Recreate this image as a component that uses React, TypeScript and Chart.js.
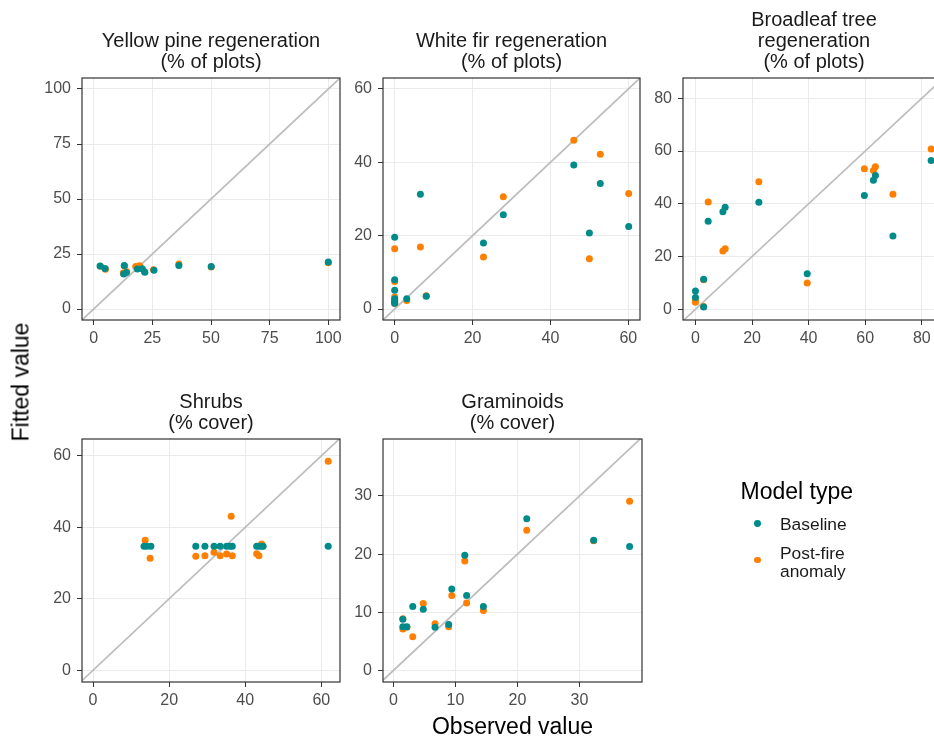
import React, { useEffect, useRef } from "react";
import { Chart, registerables } from "chart.js";

Chart.register(...registerables);

const FONT = "'Liberation Sans', Arial, Helvetica, sans-serif";
const TEAL = "#008B8B";
const ORANGE = "#FF7F00";

// ---------- Yellow pine regeneration ----------
const pineObsBase = [2.7, 4.8, 12.8, 13.0, 13.9, 18.6, 20.7, 21.8, 25.7, 36.3, 50.1, 100];
const pineFitBase = [19.6, 18.4, 15.9, 19.8, 16.6, 18.2, 18.3, 16.7, 17.6, 19.8, 19.3, 21.4];
const pineObsAnom = [2.9, 5.0, 12.6, 13.2, 14.1, 17.9, 19.6, 21.6, 25.5, 36.3, 50.1, 100];
const pineFitAnom = [19.4, 18.1, 16.4, 19.5, 16.9, 19.3, 19.7, 17.0, 17.8, 20.4, 19.1, 21.0];
const pineTicksX = [0, 25, 50, 75, 100];
const pineTicksY = [0, 25, 50, 75, 100];

// ---------- White fir regeneration ----------
const firObsBase = [0, 0, 0, 0, 0, 0, 3.1, 6.6, 8.1, 22.8, 27.9, 46.0, 50.0, 52.8, 60.1];
const firFitBase = [19.6, 8.0, 5.1, 2.8, 2.1, 1.6, 2.8, 31.3, 3.5, 18.0, 25.7, 39.3, 20.7, 34.2, 22.5];
const firObsAnom = [0, 0, 0, 0, 0, 0, 3.1, 6.6, 8.1, 22.8, 27.9, 46.0, 50.0, 52.8, 60.1];
const firFitAnom = [16.4, 7.5, 3.3, 2.4, 1.9, 1.5, 2.3, 16.9, 3.6, 14.2, 30.6, 46.0, 13.7, 42.2, 31.5];
const firTicksX = [0, 20, 40, 60];
const firTicksY = [0, 20, 40, 60];

// ---------- Broadleaf tree regeneration ----------
const broadObsBase = [0, 0, 2.9, 2.9, 4.5, 9.7, 10.5, 22.4, 39.5, 59.7, 62.9, 63.6, 69.8, 83.3];
const broadFitBase = [6.9, 4.4, 11.4, 0.8, 33.4, 37.0, 38.7, 40.6, 13.4, 43.1, 48.9, 50.7, 27.8, 56.4];
const broadObsAnom = [0, 0, 2.9, 2.9, 4.5, 9.7, 10.5, 22.4, 39.5, 59.7, 62.9, 63.6, 69.8, 83.3];
const broadFitAnom = [3.5, 2.6, 11.2, 1.0, 40.7, 22.1, 22.9, 48.3, 9.9, 53.3, 52.6, 54.0, 43.6, 60.8];
const broadTicksX = [0, 20, 40, 60, 80];
const broadTicksY = [0, 20, 40, 60, 80];

// ---------- Shrubs ----------
const shrubObsBase = [13.4, 14.1, 15.2, 27.0, 29.4, 31.8, 33.4, 35.1, 36.0, 36.6, 43.0, 43.6, 44.3, 44.7, 61.8];
const shrubFitBase = [34.7, 34.7, 34.7, 34.7, 34.7, 34.7, 34.7, 34.7, 34.7, 34.7, 34.7, 34.7, 34.7, 34.7, 34.7];
const shrubObsAnom = [13.7, 15.0, 27.0, 29.4, 31.8, 33.4, 35.1, 36.3, 36.6, 43.0, 43.6, 44.3, 61.8];
const shrubFitAnom = [36.4, 31.3, 31.9, 32.0, 33.0, 32.0, 32.5, 43.1, 32.0, 32.6, 32.0, 35.3, 58.5];
const shrubTicksX = [0, 20, 40, 60];
const shrubTicksY = [0, 20, 40, 60];

// ---------- Graminoids ----------
const gramObsBase = [1.5, 1.5, 2.15, 3.1, 4.8, 6.7, 8.9, 9.4, 11.5, 11.8, 14.5, 21.5, 32.3, 38.1];
const gramFitBase = [8.8, 7.5, 7.5, 11.0, 10.5, 7.4, 7.9, 14.0, 19.8, 12.9, 11.0, 26.1, 22.4, 21.3];
const gramObsAnom = [1.5, 1.5, 2.15, 3.1, 4.8, 6.7, 8.9, 9.4, 11.5, 11.8, 14.5, 21.5, 32.3, 38.1];
const gramFitAnom = [8.9, 7.1, 7.4, 5.8, 11.5, 8.0, 7.5, 12.9, 18.8, 11.6, 10.3, 24.1, 22.3, 29.1];
const gramTicksX = [0, 10, 20, 30];
const gramTicksY = [0, 10, 20, 30];

const seriesNames = ["Baseline", "Post-fire anomaly"];

type Area = { left: number; right: number; top: number; bottom: number };
type PanelProps = {
  title: string[];
  obsBase: number[];
  fitBase: number[];
  obsAnom: number[];
  fitAnom: number[];
  ticksX: number[];
  ticksY: number[];
  xRange: [number, number];
  yRange: [number, number];
  area: Area;
};

const CANVAS_W = 1000;
const CANVAS_H = 738;
const Y_AXIS_W = 40;
const X_AXIS_H = 30;
const TITLE_SIZE = 20;
const TITLE_LH = 1.05;
const TITLE_PAD = 5;

const panelBorder = {
  id: "panelBorder",
  afterDraw(chart: any) {
    const { ctx, chartArea } = chart;
    const { left, top, right, bottom } = chartArea;
    ctx.save();
    ctx.strokeStyle = "#333333";
    ctx.lineWidth = 1.2;
    ctx.strokeRect(left, top, right - left, bottom - top);
    ctx.restore();
  },
};

function toPoints(xs: number[], ys: number[]) {
  return xs.map((x, i) => ({ x, y: ys[i] }));
}

function Panel(p: PanelProps) {
  const ref = useRef<HTMLCanvasElement | null>(null);
  useEffect(() => {
    if (!ref.current) return;
    const titleH = p.title.length * TITLE_SIZE * TITLE_LH + TITLE_PAD;
    const lo = Math.min(p.xRange[0], p.yRange[0]);
    const hi = Math.max(p.xRange[1], p.yRange[1]);
    const tickFont = { family: FONT, size: 16 };
    const gridCommon = {
      color: "#EBEBEB",
      lineWidth: 1,
      drawTicks: true,
      tickLength: 5,
      tickColor: "#333333",
      tickWidth: 1,
    };
    const chart = new Chart(ref.current, {
      type: "scatter",
      data: {
        datasets: [
          {
            label: seriesNames[0],
            data: toPoints(p.obsBase, p.fitBase),
            backgroundColor: TEAL,
            borderColor: TEAL,
            borderWidth: 0,
            pointRadius: 3.5,
          },
          {
            label: seriesNames[1],
            data: toPoints(p.obsAnom, p.fitAnom),
            backgroundColor: ORANGE,
            borderColor: ORANGE,
            borderWidth: 0,
            pointRadius: 3.5,
          },
          {
            label: "1:1",
            data: [
              { x: lo, y: lo },
              { x: hi, y: hi },
            ],
            showLine: true,
            borderColor: "#BDBDBD",
            borderWidth: 1.7,
            pointRadius: 0,
          },
        ] as any,
      },
      options: {
        animation: false,
        responsive: false,
        devicePixelRatio: 1,
        events: [],
        layout: {
          padding: {
            left: p.area.left - Y_AXIS_W,
            right: CANVAS_W - p.area.right,
            top: p.area.top - titleH,
            bottom: CANVAS_H - p.area.bottom - X_AXIS_H,
          },
        },
        plugins: {
          legend: { display: false },
          tooltip: { enabled: false },
          title: {
            display: true,
            text: p.title,
            fullSize: false,
            color: "#1A1A1A",
            font: { family: FONT, size: TITLE_SIZE, weight: "normal", lineHeight: TITLE_LH },
            padding: { top: 0, bottom: TITLE_PAD },
          },
        },
        scales: {
          x: {
            type: "linear",
            min: p.xRange[0],
            max: p.xRange[1],
            afterBuildTicks: (s: any) => {
              s.ticks = p.ticksX.map((v) => ({ value: v }));
            },
            afterFit: (s: any) => {
              s.height = X_AXIS_H;
            },
            grid: gridCommon,
            border: { display: false },
            ticks: {
              font: tickFont,
              color: "#4D4D4D",
              padding: 4,
              maxRotation: 0,
              autoSkip: false,
              callback: (v: any) => String(v),
            },
          },
          y: {
            type: "linear",
            min: p.yRange[0],
            max: p.yRange[1],
            afterBuildTicks: (s: any) => {
              s.ticks = p.ticksY.map((v) => ({ value: v }));
            },
            afterFit: (s: any) => {
              s.width = Y_AXIS_W;
            },
            grid: gridCommon,
            border: { display: false },
            ticks: {
              font: tickFont,
              color: "#4D4D4D",
              padding: 6,
              autoSkip: false,
              callback: (v: any) => String(v),
            },
          },
        },
      } as any,
      plugins: [panelBorder],
    });
    return () => chart.destroy();
  }, []);
  return (
    <canvas
      ref={ref}
      width={CANVAS_W}
      height={CANVAS_H}
      style={{ position: "absolute", left: 0, top: 0, width: CANVAS_W, height: CANVAS_H }}
    />
  );
}

export default function App() {
  return (
    <div
      style={{
        position: "absolute",
        left: 0,
        top: 0,
        width: 934,
        height: 738,
        overflow: "hidden",
        background: "#FFFFFF",
        fontFamily: FONT,
      }}
    >
      <Panel
        title={["Yellow pine regeneration", "(% of plots)"]}
        obsBase={pineObsBase}
        fitBase={pineFitBase}
        obsAnom={pineObsAnom}
        fitAnom={pineFitAnom}
        ticksX={pineTicksX}
        ticksY={pineTicksY}
        xRange={[-5, 105]}
        yRange={[-5, 105]}
        area={{ left: 82, right: 340, top: 78, bottom: 320 }}
      />
      <Panel
        title={["White fir regeneration", "(% of plots)"]}
        obsBase={firObsBase}
        fitBase={firFitBase}
        obsAnom={firObsAnom}
        fitAnom={firFitAnom}
        ticksX={firTicksX}
        ticksY={firTicksY}
        xRange={[-3, 63]}
        yRange={[-3, 63]}
        area={{ left: 383, right: 640, top: 78, bottom: 320 }}
      />
      <Panel
        title={["Broadleaf tree", "regeneration", "(% of plots)"]}
        obsBase={broadObsBase}
        fitBase={broadFitBase}
        obsAnom={broadObsAnom}
        fitAnom={broadFitAnom}
        ticksX={broadTicksX}
        ticksY={broadTicksY}
        xRange={[-4.4, 88.2]}
        yRange={[-4.1, 87.7]}
        area={{ left: 683, right: 945, top: 78, bottom: 320 }}
      />
      <Panel
        title={["Shrubs", "(% cover)"]}
        obsBase={shrubObsBase}
        fitBase={shrubFitBase}
        obsAnom={shrubObsAnom}
        fitAnom={shrubFitAnom}
        ticksX={shrubTicksX}
        ticksY={shrubTicksY}
        xRange={[-2.9, 64.9]}
        yRange={[-3.3, 64.7]}
        area={{ left: 82, right: 340, top: 439, bottom: 682 }}
      />
      <Panel
        title={["Graminoids", "(% cover)"]}
        obsBase={gramObsBase}
        fitBase={gramFitBase}
        obsAnom={gramObsAnom}
        fitAnom={gramFitAnom}
        ticksX={gramTicksX}
        ticksY={gramTicksY}
        xRange={[-1.7, 40.1]}
        yRange={[-2.0, 39.8]}
        area={{ left: 383, right: 642, top: 439, bottom: 682 }}
      />

      {/* shared axis titles */}
      <div
        style={{
          position: "absolute",
          left: 20.5,
          top: 381.5,
          fontSize: 23,
          lineHeight: "23px",
          color: "#000000",
          whiteSpace: "nowrap",
          transform: "translate(-50%, -50%) rotate(-90deg)",
        }}
      >
        Fitted value
      </div>
      <div
        style={{
          position: "absolute",
          left: 512.5,
          top: 714.5,
          fontSize: 23,
          lineHeight: "23px",
          color: "#000000",
          whiteSpace: "nowrap",
          transform: "translateX(-50%)",
        }}
      >
        Observed value
      </div>

      {/* legend */}
      <div
        style={{
          position: "absolute",
          left: 740.5,
          top: 479.5,
          fontSize: 23,
          lineHeight: "23px",
          color: "#000000",
          whiteSpace: "nowrap",
        }}
      >
        Model type
      </div>
      <div
        style={{
          position: "absolute",
          left: 754,
          top: 520,
          width: 6.8,
          height: 6.8,
          borderRadius: "50%",
          background: TEAL,
        }}
      />
      <div
        style={{
          position: "absolute",
          left: 780,
          top: 515.5,
          fontSize: 17.4,
          lineHeight: "17.4px",
          color: "#1A1A1A",
          whiteSpace: "nowrap",
        }}
      >
        {seriesNames[0]}
      </div>
      <div
        style={{
          position: "absolute",
          left: 754,
          top: 556.6,
          width: 6.8,
          height: 6.8,
          borderRadius: "50%",
          background: ORANGE,
        }}
      />
      <div
        style={{
          position: "absolute",
          left: 780,
          top: 543.5,
          fontSize: 17.4,
          lineHeight: "18px",
          color: "#1A1A1A",
          whiteSpace: "nowrap",
        }}
      >
        Post-fire
        <br />
        anomaly
      </div>
    </div>
  );
}
